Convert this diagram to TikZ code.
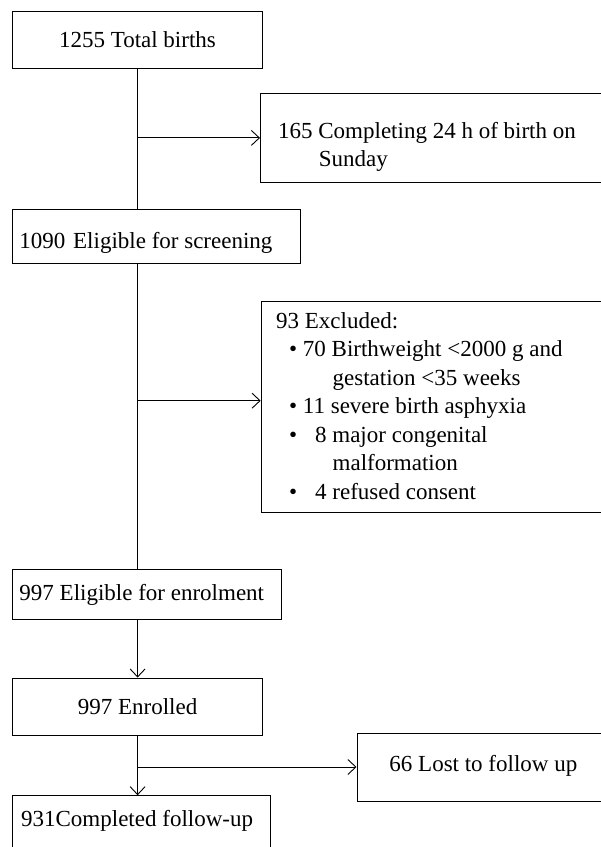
\documentclass[tikz,border=0pt]{standalone}
\usepackage{fontspec}
\setmainfont{Liberation Serif}
\usetikzlibrary{arrows.meta,calc}
\begin{document}
\begin{tikzpicture}[x=1pt,y=-1pt,
  box/.style={draw, line width=0.9pt, inner ysep=0pt, anchor=base west,
    font=\fontsize{23}{28.5}\selectfont},
  conn/.style={line width=0.9pt},
  arr/.style={conn, -{Straight Barb[length=8pt,width=15pt]}}]
\useasboundingbox (0,0) rectangle (601,847);
\clip (0,0) rectangle (601,847);

\node[box, minimum width=249.4pt, text height=35.3pt, text depth=21.3pt] (tb) at (12.3,47) {1255 Total births};

\node[box, inner xsep=17.7pt, text width=400pt, align=flush left, text height=45pt, text depth=44.2pt] (sun) at (260,138.3)
  {165 Completing 24 h of birth on\\\hspace*{40.6pt}Sunday};

\node[box, inner xsep=6.7pt, text width=274.3pt, align=flush left, text height=39pt, text depth=15pt] (scr) at (12.3,248.3)
  {1090\hspace{2pt} Eligible for screening};

\node[box, inner xsep=15pt, text width=400pt, align=flush left, text height=26.8pt, text depth=184.2pt] (exc) at (260.7,328.3)
  {93 Excluded:\\
   \hspace*{13pt}• 70 Birthweight <2000 g and\\
   \hspace*{56.5pt}gestation <35 weeks\\
   \hspace*{13pt}• 11 severe birth asphyxia\\
   \hspace*{13pt}\makebox[26pt][l]{•}8 major congenital\\
   \hspace*{56.5pt}malformation\\
   \hspace*{13pt}\makebox[26pt][l]{•}4 refused consent};

\node[box, inner xsep=6.7pt, text width=255.3pt, align=flush left, text height=31.4pt, text depth=18.8pt] (el) at (12.3,600.7)
  {997 Eligible for enrolment};

\node[box, minimum width=249.7pt, text height=36.5pt, text depth=20.5pt] (enr) at (12.3,714.5) {997 Enrolled};

\node[box, inner xsep=32.5pt, text width=300pt, align=flush left, text height=38.7pt, text depth=29.3pt] (lost) at (356.5,771.7)
  {66 Lost to follow up};

\node[box, inner xsep=8.4pt, text width=240.9pt, align=flush left, text height=31pt, text depth=60pt] (comp) at (12.3,826.7)
  {931Completed follow-up};

\coordinate (b2) at (137,400.7);

\draw[conn] (tb.south) -- (tb.south |- scr.north);
\draw[arr] (tb.south |- sun.west) -- (sun.west);
\draw[conn] (tb.south |- scr.south) -- (tb.south |- el.north);
\draw[arr] (b2) -- (b2 -| exc.west);
\draw[arr] (enr.north |- el.south) -- (enr.north);
\draw[arr] (enr.south) -- (enr.south |- comp.north);
\draw[arr] (enr.south |- lost.west) -- (lost.west);
\end{tikzpicture}
\end{document}
